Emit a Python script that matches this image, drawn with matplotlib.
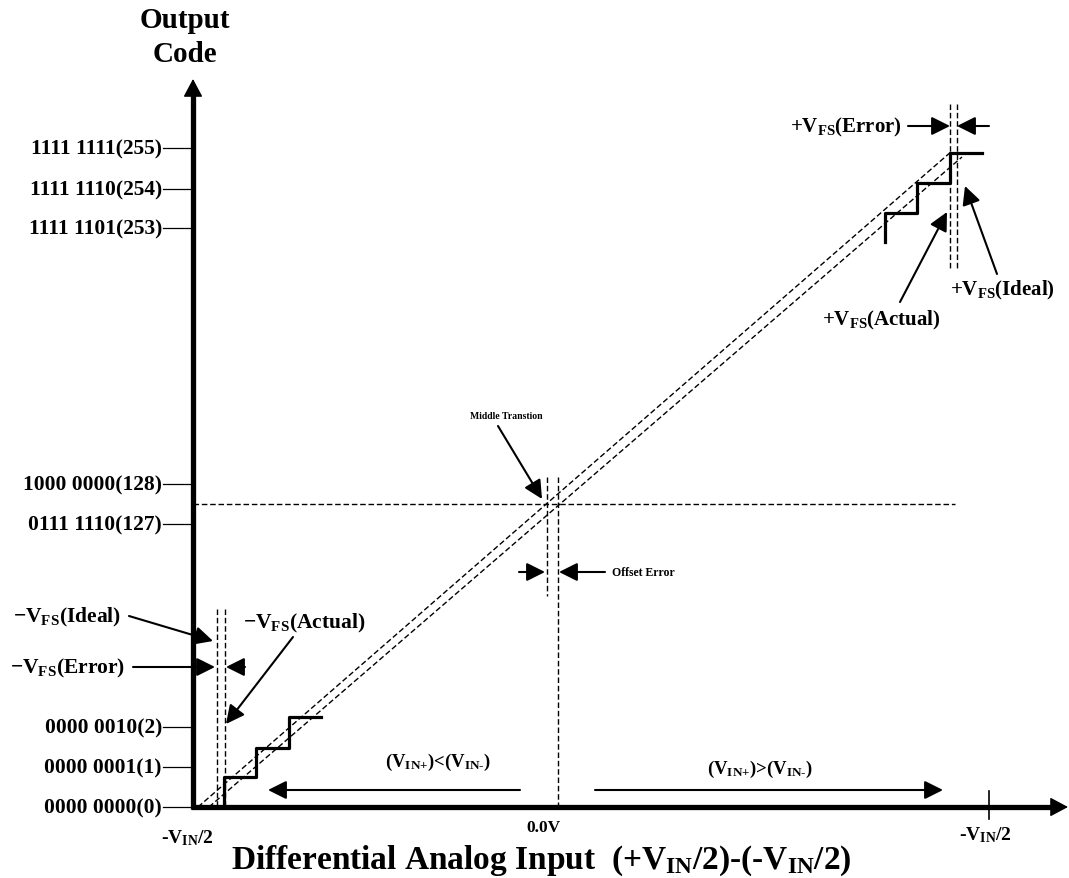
import matplotlib
matplotlib.use("Agg")
import matplotlib.pyplot as plt

plt.rcParams['font.family'] = ['Liberation Serif', 'DejaVu Serif']
plt.rcParams['font.weight'] = 'bold'
plt.rcParams['mathtext.fontset'] = 'custom'
plt.rcParams['mathtext.rm'] = 'Liberation Serif:bold'
plt.rcParams['mathtext.it'] = 'Liberation Serif:bold'
plt.rcParams['mathtext.bf'] = 'Liberation Serif:bold'

# output codes shown on the vertical axis
codes = [0, 1, 2, 127, 128, 253, 254, 255]
code_labels = ['0000 0000(0)', '0000 0001(1)', '0000 0010(2)', '0111 1110(127)',
               '1000 0000(128)', '1111 1101(253)', '1111 1110(254)', '1111 1111(255)']
# schematic (broken) vertical position of each code, in pixels from the top
code_pos = [808, 768, 728, 525, 485, 229, 190, 149]

# staircases (pixel layout of the drawing)
stair_low_x = [224, 224, 256, 256, 289, 289, 321]
stair_low_y = [808, 778, 778, 749, 749, 718, 718]
stair_high_x = [885, 885, 917, 917, 950, 950, 982]
stair_high_y = [243, 214, 214, 184, 184, 154, 154]

# transfer lines (actual / ideal)
line_a_x = [198, 952]
line_a_y = [808, 152]
line_b_x = [209, 962]
line_b_y = [808, 158]

x0, y0 = 193, 808
dash = (0, (4, 2))

fig = plt.figure(figsize=(10.69, 8.79), dpi=100)
ax = fig.add_axes([0, 0, 1, 1])
ax.set_xlim(0, 1069)
ax.set_ylim(879, 0)
ax.axis('off')


def arrow(start, tip, lw=1.5, ms=16):
    ax.annotate('', xy=tip, xytext=start,
                arrowprops=dict(arrowstyle='-|>,head_length=0.7,head_width=0.35',
                                lw=lw, color='black', mutation_scale=ms,
                                shrinkA=0, shrinkB=0))


# main axes
ax.plot([x0, x0], [y0 + 2, 92], color='black', lw=3.8, solid_capstyle='butt')
ax.plot([x0 - 2, 1052], [y0, y0], color='black', lw=3.8, solid_capstyle='butt')
ax.annotate('', xy=(x0, 80), xytext=(x0, 100),
            arrowprops=dict(arrowstyle='-|>,head_length=0.75,head_width=0.4',
                            lw=1, color='black', mutation_scale=15, shrinkA=0, shrinkB=0))
ax.annotate('', xy=(1068, y0), xytext=(1045, y0),
            arrowprops=dict(arrowstyle='-|>,head_length=0.75,head_width=0.4',
                            lw=1, color='black', mutation_scale=15, shrinkA=0, shrinkB=0))

# code ticks and labels
for lab, yp in zip(code_labels, code_pos):
    ax.plot([163, x0], [yp, yp], color='black', lw=0.9)
    ax.text(162, yp, lab, ha='right', va='center', fontsize=15.5, fontweight='bold')

ax.text(185, 21, 'Output', ha='center', va='center', fontsize=21, fontweight='bold')
ax.text(185, 55, 'Code', ha='center', va='center', fontsize=21, fontweight='bold')

# dashed construction lines
ax.plot(line_a_x, line_a_y, color='black', lw=1, ls=dash)
ax.plot(line_b_x, line_b_y, color='black', lw=1, ls=dash)
ax.plot([x0, 955], [505, 505], color='black', lw=1, ls=dash)
for xv, ya, yb in [(217, 610, 808), (225, 610, 808), (547, 478, 597),
                   (558, 478, 808), (950, 105, 271), (957, 105, 271)]:
    ax.plot([xv, xv], [ya, yb], color='black', lw=1, ls=dash)

# staircases
ax.plot(stair_low_x, stair_low_y, color='black', lw=2.3)
ax.plot(stair_high_x, stair_high_y, color='black', lw=2.3)

# x tick at right end
ax.plot([989, 989], [792, 820], color='black', lw=1.2)

# annotations
fs = 15.5
ax.text(13, 617, '\u2212V$_{\\mathrm{FS}}$(Ideal)', ha='left', va='center', fontsize=fs)
arrow((129, 617), (213, 642))
ax.text(10, 668, '\u2212V$_{\\mathrm{FS}}$(Error)', ha='left', va='center', fontsize=fs)
arrow((133, 668), (215, 668))
arrow((245, 668), (226, 668))
ax.text(243, 623, '\u2212V$_{\\mathrm{FS}}$(Actual)', ha='left', va='center', fontsize=fs)
arrow((293, 638), (226, 725))

ax.text(506, 417, 'Middle Transtion', ha='center', va='center', fontsize=7)
arrow((498, 427), (542, 500))
ax.text(612, 573, 'Offset Error', ha='left', va='center', fontsize=8.5)
arrow((519, 573), (545, 573))
arrow((605, 573), (559, 573))

ax.text(790, 127, '+V$_{\\mathrm{FS}}$(Error)', ha='left', va='center', fontsize=15)
arrow((908, 127), (950, 127))
arrow((989, 127), (957, 127))
ax.text(822, 320, '+V$_{\\mathrm{FS}}$(Actual)', ha='left', va='center', fontsize=15)
arrow((900, 303), (947, 213))
ax.text(950, 290, '+V$_{\\mathrm{FS}}$(Ideal)', ha='left', va='center', fontsize=15)
arrow((997, 275), (965, 187))

# input range arrows
ax.text(438, 762, '(V$_{\\text{IN+}}$)<(V$_{\\text{IN-}}$)', ha='center', va='center', fontsize=13.5)
ax.text(760, 769, '(V$_{\\text{IN+}}$)>(V$_{\\text{IN-}}$)', ha='center', va='center', fontsize=13.5)
arrow((520, 791), (268, 791))
arrow((595, 791), (943, 791))

# x labels
ax.text(187, 838, '-V$_{\\mathrm{IN}}$/2', ha='center', va='center', fontsize=14)
ax.text(543, 828, '0.0V', ha='center', va='center', fontsize=12.5)
ax.text(985, 835, '-V$_{\\mathrm{IN}}$/2', ha='center', va='center', fontsize=14)
ax.text(541, 861, 'Differential Analog Input  (+V$_{\\mathrm{IN}}$/2)-(-V$_{\\mathrm{IN}}$/2)',
        ha='center', va='center', fontsize=24)

fig.savefig('out.png', dpi=100)
